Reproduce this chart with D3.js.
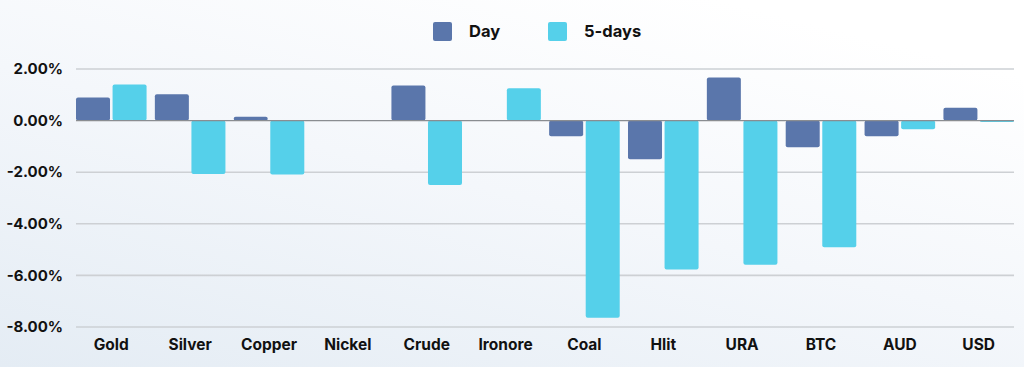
<!DOCTYPE html>
<html lang="en">
<head>
    <meta charset="UTF-8">
    <title>Day vs 5-days change</title>
    <script src="https://d3js.org/d3.v7.min.js"></script>
    <style>
        body { margin: 0; }
        svg { display: block; font-family: "Inter", "DejaVu Sans", sans-serif; }
        .y-label { font-size: 15px; font-weight: 700; fill: #111; }
        .x-label { font-size: 15.5px; font-weight: 700; fill: #111; }
        .legend-label { font-size: 16.5px; font-weight: 700; fill: #111; }
    </style>
</head>
<body>
    <svg width="1024" height="367"></svg>

    <script>
        // Categories and values (percent change)
        const categories = ["Gold", "Silver", "Copper", "Nickel", "Crude", "Ironore", "Coal", "Hlit", "URA", "BTC", "AUD", "USD"];
        const dayValues = [0.90, 1.02, 0.15, 0, 1.36, 0, -0.61, -1.50, 1.67, -1.03, -0.61, 0.50];
        const fiveDayValues = [1.40, -2.07, -2.09, 0, -2.50, 1.25, -7.64, -5.77, -5.59, -4.91, -0.34, -0.05];
        const yTicks = [2, 0, -2, -4, -6, -8];
        const seriesNames = ["Day", "5-days"];
        const colors = ["#5a76ab", "#55d0ea"];

        const data = categories.map((c, i) => ({ cat: c, values: [dayValues[i], fiveDayValues[i]] }));

        const svg = d3.select("svg");

        // soft background gradient
        const defs = svg.append("defs");
        const grad = defs.append("linearGradient")
            .attr("id", "bg")
            .attr("x1", "0%").attr("y1", "100%")
            .attr("x2", "70%").attr("y2", "0%");
        grad.append("stop").attr("offset", "0%").attr("stop-color", "#e4ecf4");
        grad.append("stop").attr("offset", "55%").attr("stop-color", "#f4f7fb");
        grad.append("stop").attr("offset", "100%").attr("stop-color", "#ffffff");
        svg.append("rect").attr("width", 1024).attr("height", 367).attr("fill", "url(#bg)");

        const left = 76, right = 1014;

        const x = d3.scaleBand()
            .domain(categories)
            .range([left, right])
            .paddingInner(0.105)
            .paddingOuter(0);

        const xInner = d3.scaleBand()
            .domain([0, 1])
            .range([0, x.bandwidth()])
            .paddingInner(0.07);

        const y = d3.scaleLinear()
            .domain([-8, 2])
            .range([327, 69]);

        // gridlines
        svg.append("g")
            .selectAll("line")
            .data(yTicks.filter(d => d !== 0))
            .join("line")
            .attr("x1", left)
            .attr("x2", right)
            .attr("y1", d => y(d))
            .attr("y2", d => y(d))
            .attr("stroke", "#cdd0d4")
            .attr("stroke-width", 1.6);

        // y axis labels
        svg.append("g")
            .selectAll("text")
            .data(yTicks)
            .join("text")
            .attr("class", "y-label")
            .attr("x", 63)
            .attr("y", d => y(d))
            .attr("dy", "0.35em")
            .attr("text-anchor", "end")
            .text(d => d.toFixed(2) + "%");

        // bars
        const groups = svg.append("g")
            .selectAll("g")
            .data(data)
            .join("g")
            .attr("transform", d => `translate(${x(d.cat)},0)`);

        groups.selectAll("rect")
            .data(d => d.values.map((v, i) => ({ v, i })))
            .join("rect")
            .attr("x", d => xInner(d.i))
            .attr("width", xInner.bandwidth())
            .attr("y", d => y(Math.max(0, d.v)))
            .attr("height", d => Math.abs(y(d.v) - y(0)))
            .attr("rx", 2)
            .attr("fill", d => colors[d.i]);

        // zero line
        svg.append("line")
            .attr("x1", left)
            .attr("x2", right)
            .attr("y1", y(0))
            .attr("y2", y(0))
            .attr("stroke", "#8a8d91")
            .attr("stroke-width", 1.4);

        // x axis labels
        svg.append("g")
            .selectAll("text")
            .data(categories)
            .join("text")
            .attr("class", "x-label")
            .attr("x", d => x(d) + x.bandwidth() / 2)
            .attr("y", 345)
            .attr("dy", "0.35em")
            .attr("text-anchor", "middle")
            .text(d => d);

        // legend
        const legendX = [433, 548];
        const legend = svg.append("g")
            .selectAll("g")
            .data(seriesNames)
            .join("g")
            .attr("transform", (d, i) => `translate(${legendX[i]},22)`);

        legend.append("rect")
            .attr("width", 19)
            .attr("height", 19)
            .attr("rx", 2)
            .attr("fill", (d, i) => colors[i]);

        legend.append("text")
            .attr("class", "legend-label")
            .attr("x", 36)
            .attr("y", 9.5)
            .attr("dy", "0.35em")
            .text(d => d);
    </script>
</body>
</html>
